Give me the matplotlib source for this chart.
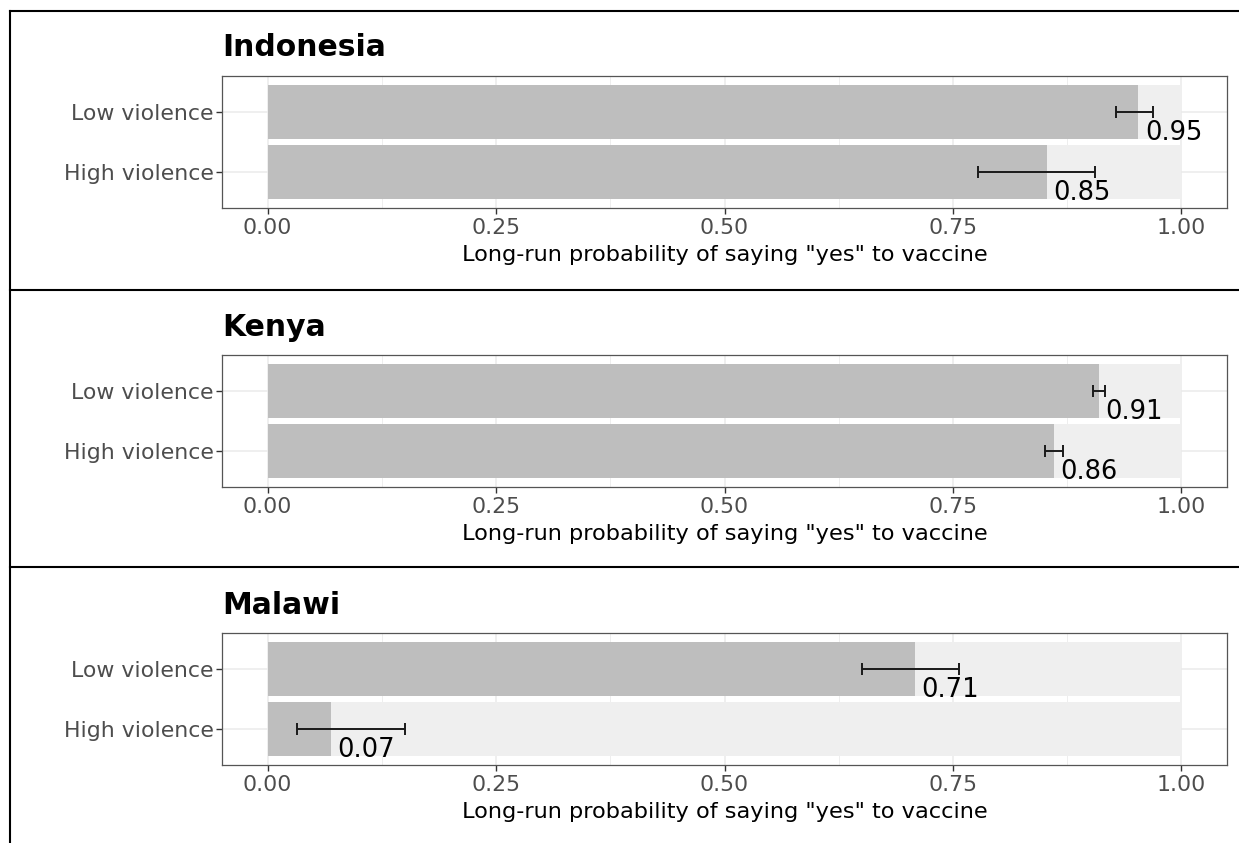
import matplotlib.pyplot as plt
from matplotlib.lines import Line2D
from matplotlib.ticker import MultipleLocator

countries = ['Indonesia', 'Kenya', 'Malawi']
groups = ['Low violence', 'High violence']
prob = {
    'Indonesia': [0.953, 0.853],
    'Kenya': [0.910, 0.861],
    'Malawi': [0.708, 0.069],
}
ci_low = {
    'Indonesia': [0.928, 0.777],
    'Kenya': [0.903, 0.851],
    'Malawi': [0.650, 0.032],
}
ci_high = {
    'Indonesia': [0.969, 0.906],
    'Kenya': [0.917, 0.870],
    'Malawi': [0.757, 0.150],
}
labels = {
    'Indonesia': ['0.95', '0.85'],
    'Kenya': ['0.91', '0.86'],
    'Malawi': ['0.71', '0.07'],
}

W, H = 1239, 843
fig = plt.figure(figsize=(W / 100, H / 100), dpi=100)

# pixel positions of each panel
ax_tops = [76, 355, 633]
box_tops = [11, 290, 567]
ax_h = 132
left, right = 222, 1227

for i, c in enumerate(countries):
    top = ax_tops[i]
    ax = fig.add_axes([left / W, 1 - (top + ax_h) / H, (right - left) / W, ax_h / H])
    ypos = [2, 1]
    ax.barh(ypos, [1, 1], height=0.9, color='#EFEFEF', zorder=2)
    ax.barh(ypos, prob[c], height=0.9, color='#BEBEBE', zorder=3)
    lo = [p - l for p, l in zip(prob[c], ci_low[c])]
    hi = [h - p for p, h in zip(prob[c], ci_high[c])]
    ax.errorbar(prob[c], ypos, xerr=[lo, hi], fmt='none', ecolor='#1a1a1a',
                elinewidth=1.4, capsize=4.5, capthick=1.4, zorder=4)
    for v, y, t in zip(prob[c], ypos, labels[c]):
        ax.text(v + 0.007, y - 0.35, t, ha='left', va='center', fontsize=18.5,
                color='black', zorder=5)
    ax.set_xlim(-0.05, 1.05)
    ax.set_ylim(0.4, 2.6)
    ax.set_yticks(ypos)
    ax.set_yticklabels(groups)
    ax.set_xticks([0, 0.25, 0.5, 0.75, 1.0])
    ax.set_xticklabels(['0.00', '0.25', '0.50', '0.75', '1.00'])
    ax.xaxis.set_minor_locator(MultipleLocator(0.125))
    ax.grid(True, which='major', color='#EBEBEB', linewidth=1.1, zorder=0)
    ax.grid(True, which='minor', axis='x', color='#EBEBEB', linewidth=0.6, zorder=0)
    ax.set_axisbelow(True)
    ax.tick_params(axis='both', which='major', labelsize=15.8, labelcolor='#4D4D4D',
                   color='#333333', length=4, width=1, pad=3.5)
    ax.tick_params(axis='y', which='major', pad=2)
    ax.tick_params(axis='x', which='minor', length=0)
    for s in ax.spines.values():
        s.set_color('#555555')
        s.set_linewidth(0.9)
    ax.set_xlabel('Long-run probability of saying "yes" to vaccine', fontsize=16.2,
                  labelpad=4.5)
    fig.text(left / W, 1 - (top - 28) / H, c, fontsize=21.5, fontweight='bold',
             ha='left', va='center')

# panel borders
for y in box_tops:
    fig.add_artist(Line2D([10 / W, 1], [1 - y / H, 1 - y / H], color='black',
                          linewidth=1.5, transform=fig.transFigure))
fig.add_artist(Line2D([10 / W, 10 / W], [1 - 11 / H, 0], color='black',
                      linewidth=1.5, transform=fig.transFigure))

fig.savefig('out.png', dpi=100)
